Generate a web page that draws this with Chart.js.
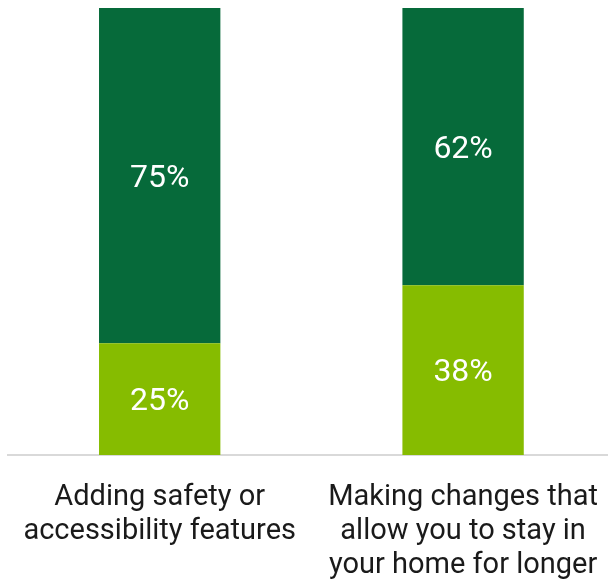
<!DOCTYPE html>
<html>
<head>
<meta charset="utf-8">
<script src="https://cdn.jsdelivr.net/npm/chart.js@4/dist/chart.umd.min.js"></script>
<style>
  html, body { margin: 0; padding: 0; background: #fff; overflow: hidden; }
  #wrap { width: 616px; height: 579px; }
</style>
</head>
<body>
<div id="wrap"><canvas id="myChart" width="616" height="579"></canvas></div>
<script>
const categories = [
    ['Adding safety or', 'accessibility features'],
    ['Making changes that', 'allow you to stay in', 'your home for longer']
];
const lowerValues = [25, 38];
const upperValues = [75, 62];

// white % labels in the middle of each segment
const segmentLabels = {
    id: 'segmentLabels',
    afterDatasetsDraw: (chart) => {
        const ctx = chart.ctx;
        ctx.save();
        ctx.fillStyle = '#fff';
        ctx.font = '32px Roboto';
        ctx.textAlign = 'center';
        ctx.textBaseline = 'middle';
        chart.data.datasets.forEach((ds, i) => {
            chart.getDatasetMeta(i).data.forEach((bar, j) => {
                const mid = (bar.y + bar.base) / 2;
                ctx.fillText(ds.data[j] + '%', bar.x, mid + 3);
            });
        });
        ctx.restore();
    }
};

const config = {
    type: 'bar',
    data: {
        labels: categories,
        datasets: [{
            data: lowerValues,
            backgroundColor: '#86bc00',
            categoryPercentage: 1,
            barPercentage: 0.4
        }, {
            data: upperValues,
            backgroundColor: '#066a3a',
            categoryPercentage: 1,
            barPercentage: 0.4
        }]
    },
    options: {
        responsive: false,
        animation: false,
        layout: {
            padding: { top: 8, left: 8, right: 0, bottom: 0 }
        },
        scales: {
            x: {
                stacked: true,
                grid: { display: false },
                border: { color: '#d9d9d9', width: 2 },
                ticks: {
                    color: '#1a1a1a',
                    font: { family: 'Roboto', size: 29, lineHeight: 1.17 },
                    padding: 18,
                    maxRotation: 0,
                    autoSkip: false
                },
                afterFit: (scale) => { scale.height = 124; }
            },
            y: {
                stacked: true,
                display: false,
                min: 0,
                max: 100
            }
        },
        plugins: {
            legend: { display: false },
            tooltip: { enabled: false }
        }
    },
    plugins: [segmentLabels]
};

new Chart(document.getElementById('myChart'), config);
</script>
</body>
</html>
